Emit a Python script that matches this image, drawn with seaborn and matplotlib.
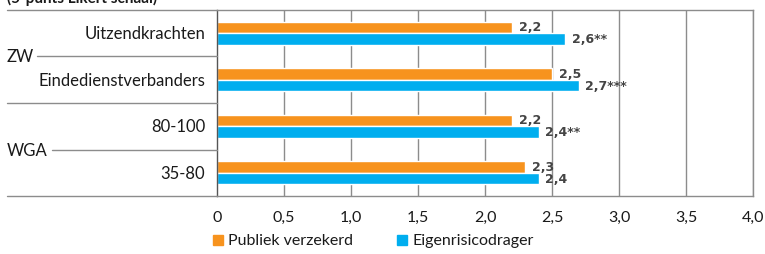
import pandas as pd
import matplotlib
matplotlib.use('Agg')
import matplotlib.pyplot as plt
import seaborn as sns
from matplotlib.lines import Line2D
from matplotlib.patches import Rectangle

# Data
categories = ['Uitzendkrachten', 'Eindedienstverbanders', '80-100', '35-80']
publiek = [2.2, 2.5, 2.2, 2.3]
eigen = [2.6, 2.7, 2.4, 2.4]
eigen_sig = ['**', '***', '**', '']
series_names = ['Publiek verzekerd', 'Eigenrisicodrager']
groups = ['ZW', 'WGA']
xticks = [0, 0.5, 1.0, 1.5, 2.0, 2.5, 3.0, 3.5, 4.0]

orange = '#F7931E'
blue = '#00AEEF'
grey = '#8c8c8c'
textc = '#1a1a1a'

df = pd.DataFrame({
    'categorie': categories * 2,
    'score': publiek + eigen,
    'groep': [series_names[0]] * 4 + [series_names[1]] * 4,
})

sns.set_style('white')
plt.rcParams['font.family'] = ['Lato', 'DejaVu Sans']

W, H = 765, 255
fig = plt.figure(figsize=(W / 100, H / 100), dpi=100)
ax = fig.add_axes([217 / W, 1 - 197 / H, (753 - 217) / W, (197 - 11) / H])

sns.barplot(data=df, y='categorie', x='score', hue='groep', orient='h',
            palette=[orange, blue], width=0.5, saturation=1, ax=ax, legend=False)

ax.set_xlim(0, 4.0)
ax.set_ylim(3.5, -0.5)
ax.set_xticks(xticks)
ax.set_xticklabels([('%.1f' % t).replace('.', ',') if t else '0' for t in xticks],
                   fontsize=11.5, color=textc)
ax.set_yticks([])
ax.set_xlabel('')
ax.set_ylabel('')
for t in xticks[1:]:
    ax.axvline(t, color=grey, lw=1, zorder=0)
for side in ['top', 'bottom', 'left', 'right']:
    ax.spines[side].set_color(grey)
    ax.spines[side].set_linewidth(1)
ax.spines['left'].set_color('#555555')
ax.tick_params(axis='x', length=6, color=grey, width=1, pad=4, direction='out')

# value labels
lab = dict(fontsize=9, fontweight='bold', color='#444444', va='center',
           fontfamily='DejaVu Sans')
for i in range(len(categories)):
    ax.text(publiek[i] + 0.05, i - 0.14, ('%.1f' % publiek[i]).replace('.', ','), **lab)
    ax.text(eigen[i] + 0.05, i + 0.12,
            ('%.1f' % eigen[i]).replace('.', ',') + eigen_sig[i], **lab)

# category labels
for i, c in enumerate(categories):
    ax.text(-12 / 134, i, c, ha='right', va='center', fontsize=12, color=textc)

# left-side separator lines (pixel coords -> figure coords)
def hline(x0, x1, y):
    fig.add_artist(Line2D([x0 / W, x1 / W], [1 - y / H, 1 - y / H], color=grey, lw=1))

hline(7, 217, 11)
hline(37, 217, 57)
hline(7, 217, 104)
hline(52, 217, 151)
hline(7, 217, 197)

fig.text(7 / W, 1 - 57 / H, groups[0], ha='left', va='center', fontsize=12, color=textc)
fig.text(7 / W, 1 - 151 / H, groups[1], ha='left', va='center', fontsize=12, color=textc)

# title, cut off by the top edge as in the source
fig.text(7 / W, 1 - 3 / H, '(5-punts Likert schaal)', ha='left', va='baseline',
         fontsize=11, fontweight='bold', color=textc)

# legend
for x, col, name in [(213, orange, series_names[0]), (397, blue, series_names[1])]:
    fig.add_artist(Rectangle((x / W, 1 - 246 / H), 10 / W, 10 / H, color=col,
                             transform=fig.transFigure))
    fig.text((x + 15) / W, 1 - 241 / H, name, ha='left', va='center',
             fontsize=11.5, color=textc)

fig.savefig('out.png', dpi=100)
